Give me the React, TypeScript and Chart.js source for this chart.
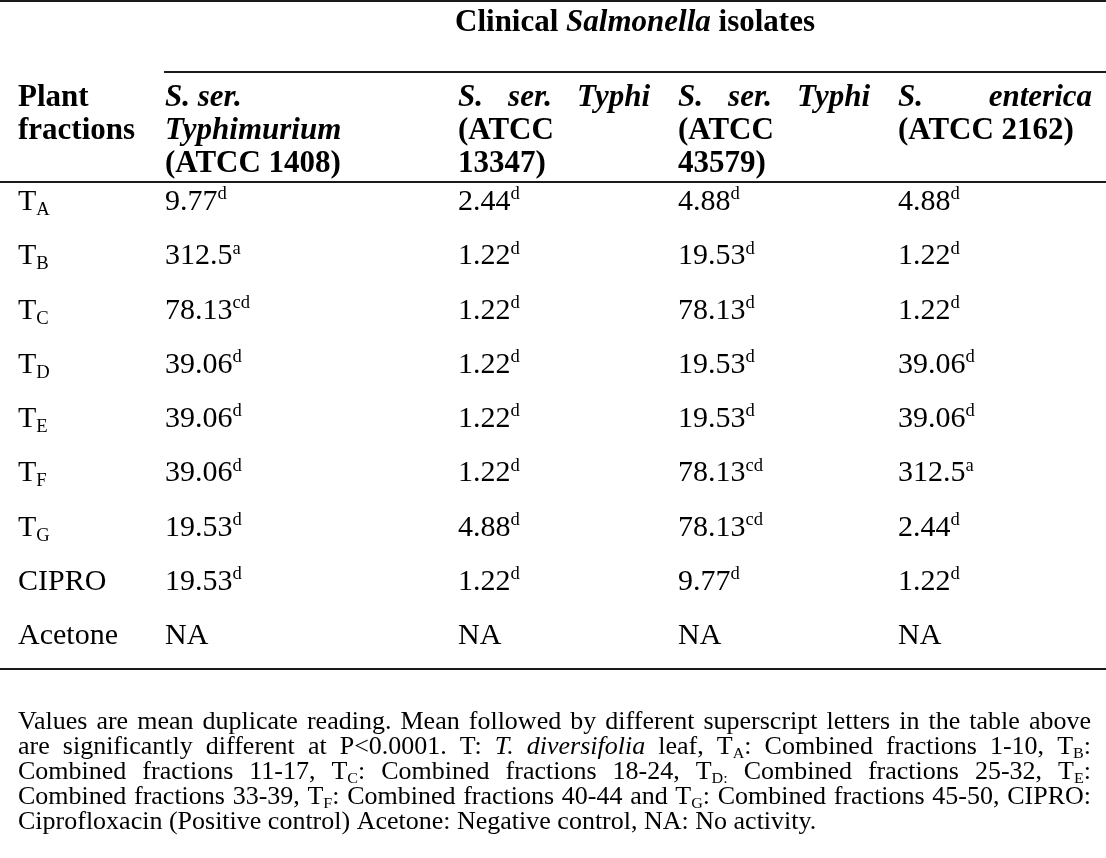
import React, { useEffect, useRef } from 'react';
import { Chart, registerables } from 'chart.js';

Chart.register(...registerables);

// ---------- data ----------
const ROW_KEYS = ['TA', 'TB', 'TC', 'TD', 'TE', 'TF', 'TG', 'CIPRO', 'Acetone'];
const ROW_LABELS = ['T_{A}', 'T_{B}', 'T_{C}', 'T_{D}', 'T_{E}', 'T_{F}', 'T_{G}', 'CIPRO', 'Acetone'];

const TYPHIMURIUM_1408 = [9.77, 312.5, 78.13, 39.06, 39.06, 39.06, 19.53, 19.53, null];
const TYPHIMURIUM_1408_SIG = ['d', 'a', 'cd', 'd', 'd', 'd', 'd', 'd', ''];
const TYPHI_13347 = [2.44, 1.22, 1.22, 1.22, 1.22, 1.22, 4.88, 1.22, null];
const TYPHI_13347_SIG = ['d', 'd', 'd', 'd', 'd', 'd', 'd', 'd', ''];
const TYPHI_43579 = [4.88, 19.53, 78.13, 19.53, 19.53, 78.13, 78.13, 9.77, null];
const TYPHI_43579_SIG = ['d', 'd', 'd', 'd', 'd', 'cd', 'cd', 'd', ''];
const ENTERICA_2162 = [4.88, 1.22, 1.22, 39.06, 39.06, 312.5, 2.44, 1.22, null];
const ENTERICA_2162_SIG = ['d', 'd', 'd', 'd', 'd', 'a', 'd', 'd', ''];

const TITLE = 'Clinical *Salmonella* isolates';
const HEADER_CELLS = [
  ['Plant', 'fractions'],
  ['*S. ser.*', '*Typhimurium*', '(ATCC 1408)'],
  ['*S. ser. Typhi*', '(ATCC', '13347)'],
  ['*S. ser. Typhi*', '(ATCC', '43579)'],
  ['*S. enterica*', '(ATCC 2162)'],
];
const HEADER_JUSTIFY = [
  [0, 0],
  [0, 0, 0],
  [192, 0, 0],
  [192, 0, 0],
  [194, 0],
];

const FOOTNOTE = [
  'Values are mean duplicate reading. Mean followed by different superscript letters in the table above',
  'are significantly different at P<0.0001. T: *T. diversifolia* leaf, T_{A}: Combined fractions 1-10, T_{B}:',
  'Combined fractions 11-17, T_{C}: Combined fractions 18-24, T_{D:} Combined fractions 25-32, T_{E}:',
  'Combined fractions 33-39, T_{F}: Combined fractions 40-44 and T_{G}: Combined fractions 45-50, CIPRO:',
  'Ciprofloxacin (Positive control) Acetone: Negative control, NA: No activity.',
];

// ---------- layout (style only) ----------
const W = 1106;
const H = 858;
const FAMILY = '"Liberation Serif", "Times New Roman", serif';
const FONT = 30;
const BOLD_FONT = 31;
const FOOT_FONT = 26;
const FOOT_VSCALE = 0.95;
const COL_LEFT = [18, 165, 458, 678, 898];
const HEADER_BASELINES = [106, 139, 172];
const TITLE_BASELINE = 31;
const ROW_BASELINE_SHIFT = 9;
const FOOT_FIRST = 67;
const FOOT_STEP = 25;
const FOOT_RIGHT = 1091;
const INK = '#000';

type Piece = { text: string; italic: boolean; pos: number };

function parseRich(s: string): Piece[] {
  const runs: Piece[] = [];
  let italic = false;
  let buf = '';
  let i = 0;
  const flush = () => {
    if (buf) runs.push({ text: buf, italic, pos: 0 });
    buf = '';
  };
  while (i < s.length) {
    const c = s[i];
    if (c === '*') {
      flush();
      italic = !italic;
      i++;
      continue;
    }
    if ((c === '_' || c === '^') && s[i + 1] === '{') {
      flush();
      const end = s.indexOf('}', i);
      runs.push({ text: s.slice(i + 2, end), italic, pos: c === '_' ? 1 : -1 });
      i = end + 1;
      continue;
    }
    buf += c;
    i++;
  }
  flush();
  return runs;
}

function toWords(runs: Piece[]): Piece[][] {
  const words: Piece[][] = [[]];
  for (const r of runs) {
    const parts = r.text.split(' ');
    parts.forEach((p, k) => {
      if (k > 0) words.push([]);
      if (p) words[words.length - 1].push({ ...r, text: p });
    });
  }
  return words.filter((w) => w.length);
}

function fontFor(p: Piece, size: number, bold: boolean) {
  const s = p.pos ? size * 0.62 : size;
  return `${p.italic ? 'italic ' : ''}${bold ? 'bold ' : ''}${s}px ${FAMILY}`;
}

function measureRich(ctx: CanvasRenderingContext2D, s: string, size: number, bold: boolean) {
  const words = toWords(parseRich(s));
  let total = 0;
  words.forEach((w) => {
    w.forEach((p) => {
      ctx.font = fontFor(p, size, bold);
      total += ctx.measureText(p.text).width;
    });
  });
  ctx.font = fontFor({ text: ' ', italic: false, pos: 0 }, size, bold);
  total += ctx.measureText(' ').width * Math.max(0, words.length - 1);
  return total;
}

function drawRich(
  ctx: CanvasRenderingContext2D,
  s: string,
  x: number,
  y: number,
  size: number,
  bold: boolean,
  justifyWidth = 0,
  vscale = 1
) {
  const words = toWords(parseRich(s));
  const widths = words.map((w) =>
    w.reduce((a, p) => {
      ctx.font = fontFor(p, size, bold);
      return a + ctx.measureText(p.text).width;
    }, 0)
  );
  ctx.font = fontFor({ text: ' ', italic: false, pos: 0 }, size, bold);
  let gap = ctx.measureText(' ').width;
  if (justifyWidth && words.length > 1) {
    const sum = widths.reduce((a, b) => a + b, 0);
    gap = (justifyWidth - sum) / (words.length - 1);
  }
  ctx.save();
  ctx.translate(0, y);
  ctx.scale(1, vscale);
  let cx = x;
  words.forEach((w) => {
    w.forEach((p) => {
      ctx.font = fontFor(p, size, bold);
      const dy = p.pos === 1 ? size * 0.17 : p.pos === -1 ? -size * 0.36 : 0;
      ctx.fillText(p.text, cx, dy);
      cx += ctx.measureText(p.text).width;
    });
    cx += gap;
  });
  ctx.restore();
}

function cellText(v: number | null, sig: string) {
  return v == null ? 'NA' : `${v}^{${sig}}`;
}

const tablePlugin = {
  id: 'tableText',
  afterDraw(chart: any) {
    const ctx: CanvasRenderingContext2D = chart.ctx;
    const area = chart.chartArea;
    ctx.save();
    ctx.textBaseline = 'alphabetic';
    ctx.textAlign = 'left';

    // rules
    ctx.fillStyle = '#1a1a1a';
    ctx.fillRect(0, 0, W, 2);
    ctx.fillRect(164, 71, W - 164, 2);
    ctx.fillRect(0, 181, W, 2);
    ctx.fillRect(0, 668, W, 2);
    ctx.fillStyle = INK;

    // title centred over isolate columns
    const tw = measureRich(ctx, TITLE, BOLD_FONT, true);
    drawRich(ctx, TITLE, (164 + W) / 2 - tw / 2, TITLE_BASELINE, BOLD_FONT, true);

    // header cells
    HEADER_CELLS.forEach((lines, c) => {
      lines.forEach((ln, k) => {
        drawRich(ctx, ln, COL_LEFT[c], HEADER_BASELINES[k], BOLD_FONT, true, HEADER_JUSTIFY[c][k]);
      });
    });

    // body cells, positioned by dataset elements (scales)
    chart.data.datasets.forEach((ds: any, i: number) => {
      const meta = chart.getDatasetMeta(i);
      meta.data.forEach((el: any, j: number) => {
        drawRich(ctx, ds.cellText[j], el.x, el.y + ROW_BASELINE_SHIFT, FONT, false);
      });
    });

    // footnote
    FOOTNOTE.forEach((ln, k) => {
      const last = k === FOOTNOTE.length - 1;
      drawRich(
        ctx,
        ln,
        COL_LEFT[0],
        area.bottom + FOOT_FIRST + k * FOOT_STEP,
        FOOT_FONT,
        false,
        last ? 0 : FOOT_RIGHT - COL_LEFT[0],
        FOOT_VSCALE
      );
    });
    ctx.restore();
  },
};

export default function App() {
  const ref = useRef<HTMLCanvasElement | null>(null);
  useEffect(() => {
    if (!ref.current) return;
    const columns = [
      { label: 'Plant fractions', text: ROW_LABELS },
      { label: 'S. ser. Typhimurium (ATCC 1408)', text: TYPHIMURIUM_1408.map((v, i) => cellText(v, TYPHIMURIUM_1408_SIG[i])) },
      { label: 'S. ser. Typhi (ATCC 13347)', text: TYPHI_13347.map((v, i) => cellText(v, TYPHI_13347_SIG[i])) },
      { label: 'S. ser. Typhi (ATCC 43579)', text: TYPHI_43579.map((v, i) => cellText(v, TYPHI_43579_SIG[i])) },
      { label: 'S. enterica (ATCC 2162)', text: ENTERICA_2162.map((v, i) => cellText(v, ENTERICA_2162_SIG[i])) },
    ];
    const chart = new Chart(ref.current, {
      type: 'scatter',
      data: {
        datasets: columns.map((col, c) => ({
          label: col.label,
          data: ROW_KEYS.map((k) => ({ x: COL_LEFT[c], y: k })),
          cellText: col.text,
          pointRadius: 0,
          pointHoverRadius: 0,
          showLine: false,
        })) as any,
      },
      options: {
        animation: false,
        responsive: false,
        devicePixelRatio: 1,
        events: [],
        layout: { padding: { top: 174, bottom: H - 174 - 9 * 54.25, left: 0, right: 0 } },
        scales: {
          x: { type: 'linear', min: 0, max: W, display: false },
          y: { type: 'category', labels: ROW_KEYS, offset: true, display: false },
        },
        plugins: { legend: { display: false }, tooltip: { enabled: false } },
      },
      plugins: [tablePlugin],
    });
    return () => chart.destroy();
  }, []);
  return (
    <div style={{ position: 'fixed', left: 0, top: 0, width: W, height: H, background: '#fff' }}>
      <canvas ref={ref} width={W} height={H} style={{ display: 'block' }} />
    </div>
  );
}
